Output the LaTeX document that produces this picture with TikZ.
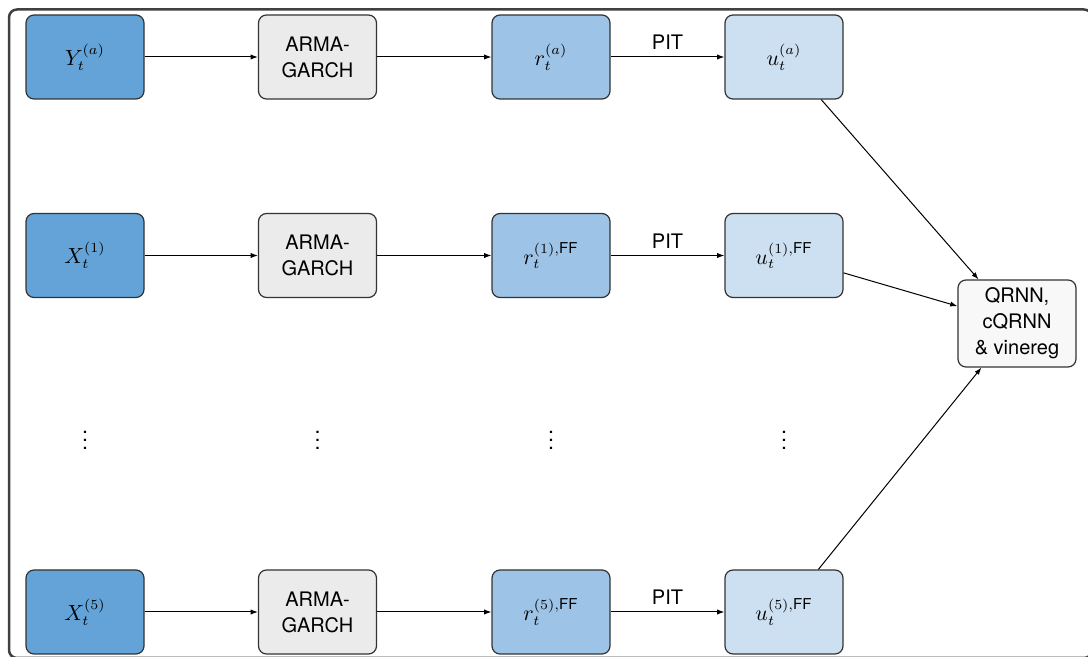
\documentclass[tikz,border=0pt]{standalone}
\usepackage{amsmath}
\usepackage[no-math]{fontspec}
\setmainfont{TeX Gyre Heros}
\usetikzlibrary{arrows.meta}

\definecolor{framegray}{HTML}{404040}
\definecolor{boxline}{HTML}{333333}
\definecolor{rawblue}{HTML}{64A3D7}
\definecolor{garchgray}{HTML}{EBEBEB}
\definecolor{resblue}{HTML}{9DC3E6}
\definecolor{unifblue}{HTML}{CDE0F2}
\definecolor{modelgray}{HTML}{F8F8F8}

\begin{document}
\begin{tikzpicture}[x=0.5pt,y=-0.5pt,
  box/.style={draw=boxline, line width=0.6pt, rounded corners=4pt,
    minimum width=59pt, minimum height=42pt, inner sep=2pt, align=center,
    font=\fontsize{10}{13}\selectfont},
  mathbox/.style={box, font=\fontsize{10.7}{13}\selectfont},
  rawbox/.style={mathbox, fill=rawblue},
  garchbox/.style={box, fill=garchgray},
  resbox/.style={mathbox, fill=resblue},
  unifbox/.style={mathbox, fill=unifblue},
  modelbox/.style={box, fill=modelgray, minimum height=43.5pt},
  conn/.style={line width=0.5pt, -{Latex[length=3.6pt,width=2.6pt]}},
  pit/.style={above, font=\fontsize{10}{12}\selectfont},
  vdotsnode/.style={inner sep=0pt, font=\fontsize{10.7}{13}\selectfont}]

\useasboundingbox (0,0) rectangle (1088,657);
\clip (0,0) rectangle (1088,657);

% outer frame
\draw[framegray, line width=1.25pt, rounded corners=4pt] (9,9.5) rectangle (1092,658);

% row (a)
\node[rawbox]   (y)  at (85,57)    {$Y_t^{(a)}$};
\node[garchbox] (g0) at (317.5,57) {ARMA-\\GARCH};
\node[resbox]   (r0) at (551,57)   {$r_t^{(a)}$};
\node[unifbox]  (u0) at (784,57)   {$u_t^{(a)}$};

% row (1)
\node[rawbox]   (x1) at (85,255.5)    {$X_t^{(1)}$};
\node[garchbox] (g1) at (317.5,255.5) {ARMA-\\GARCH};
\node[resbox]   (r1) at (551,255.5)   {$r_t^{(1),\text{FF}}$};
\node[unifbox]  (u1) at (784,255.5)   {$u_t^{(1),\text{FF}}$};

% row (5)
\node[rawbox]   (x5) at (85,612)    {$X_t^{(5)}$};
\node[garchbox] (g5) at (317.5,612) {ARMA-\\GARCH};
\node[resbox]   (r5) at (551,612)   {$r_t^{(5),\text{FF}}$};
\node[unifbox]  (u5) at (784,612)   {$u_t^{(5),\text{FF}}$};

% elided rows
\node[vdotsnode] (d1) at (85,434)    {$\vdots$};
\node[vdotsnode] (d2) at (317.5,434) {$\vdots$};
\node[vdotsnode] (d3) at (551,434)   {$\vdots$};
\node[vdotsnode] (d4) at (784,434)   {$\vdots$};

% models
\node[modelbox] (m) at (1017,323.5) {QRNN,\\cQRNN\\\& vinereg};

% connectors
\draw[conn] (y)  -- (g0);
\draw[conn] (g0) -- (r0);
\draw[conn] (r0) -- node[pit] {PIT} (u0);

\draw[conn] (x1) -- (g1);
\draw[conn] (g1) -- (r1);
\draw[conn] (r1) -- node[pit] {PIT} (u1);

\draw[conn] (x5) -- (g5);
\draw[conn] (g5) -- (r5);
\draw[conn] (r5) -- node[pit] {PIT} (u5);

\draw[conn] (u0) -- (m);
\draw[conn] (u1) -- (m);
\draw[conn] (u5) -- (m);
\end{tikzpicture}
\end{document}
